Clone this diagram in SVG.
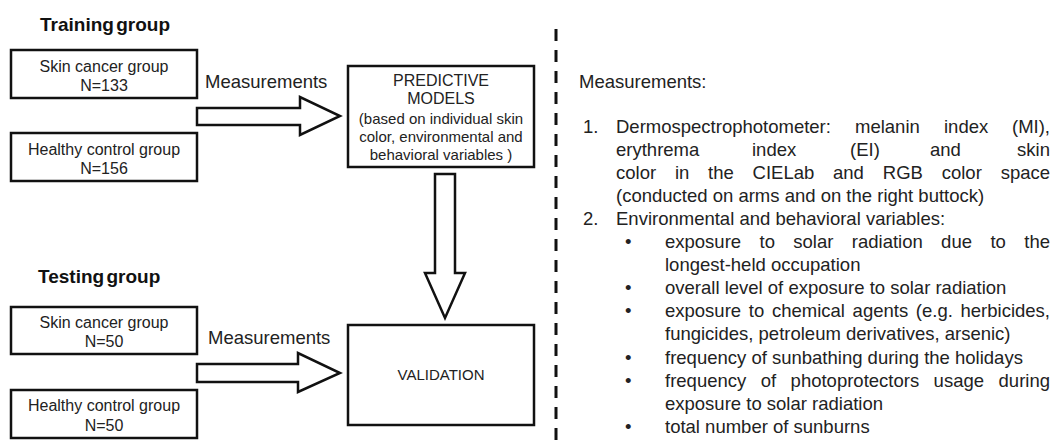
<svg xmlns="http://www.w3.org/2000/svg" width="1058" height="447" viewBox="0 0 1058 447">
<style>
.t{font-family:"Liberation Sans",Arial,sans-serif;fill:#222}
.title{font-family:"Liberation Sans",Arial,sans-serif;font-weight:bold;font-size:19px;fill:#111;word-spacing:-3px}
.box{fill:#fff;stroke:#111;stroke-width:2.5}
.g{font-size:16px;text-anchor:middle}
.p{font-size:15px;text-anchor:middle}
.lab{font-size:18.5px}
.r{font-size:18.5px}
.e{text-anchor:end}
.arrow{fill:#fff;stroke:#111;stroke-width:2.5;stroke-linejoin:miter}
</style>
<rect width="1058" height="447" fill="#fff"/>
<text class="title" x="40" y="31">Training group</text>
<text class="title" x="38" y="283">Testing group</text>
<g id="train-cancer"><rect class="box" x="11" y="50" width="186" height="48"/><text class="t g" x="104" y="72">Skin cancer group</text><text class="t g" x="104" y="91">N=133</text></g>
<g id="train-healthy"><rect class="box" x="11" y="133" width="186" height="48"/><text class="t g" x="104" y="155">Healthy control group</text><text class="t g" x="104" y="174">N=156</text></g>
<g id="test-cancer"><rect class="box" x="11" y="307" width="186" height="47"/><text class="t g" x="104" y="328">Skin cancer group</text><text class="t g" x="104" y="347">N=50</text></g>
<g id="test-healthy"><rect class="box" x="11" y="390" width="186" height="48"/><text class="t g" x="104" y="411">Healthy control group</text><text class="t g" x="104" y="431">N=50</text></g>
<g id="predictive"><rect class="box" x="348" y="66" width="186" height="101"/>
<text class="t p" x="441" y="86" style="font-size:16px">PREDICTIVE</text>
<text class="t p" x="441" y="104" style="font-size:16px">MODELS</text>
<text class="t p" x="441" y="124">(based on individual skin</text>
<text class="t p" x="441" y="142">color, environmental and</text>
<text class="t p" x="441" y="160">behavioral variables )</text></g>
<g id="validation"><rect class="box" x="348" y="325" width="186" height="100"/><text class="t p" x="441" y="380">VALIDATION</text></g>
<g id="connectors">
<polygon class="arrow" points="197,108 300,108 300,97 340,116 300,135 300,125 197,125"/>
<text class="t lab" x="205" y="88">Measurements</text>
<polygon class="arrow" points="197,364 298,364 298,353 340,373 298,392 298,382 197,382"/>
<text class="t lab" x="208" y="344">Measurements</text>
<polygon class="arrow" points="435,174 455,174 455,273 465,273 445,318 425,273 435,273"/>
</g>
<line x1="556" y1="29" x2="556" y2="447" stroke="#111" stroke-width="3" stroke-dasharray="12 9"/>
<g id="measurements-text">
<text class="t r" x="579" y="88">Measurements:</text>
<text class="t r" x="583" y="133">1.</text>
<text class="t r" x="616" y="133">Dermospectrophotometer:</text>
<text class="t r" x="855" y="133">melanin</text>
<text class="t r" x="944" y="133">index</text>
<text class="t r e" x="1050" y="133">(MI),</text>
<text class="t r" x="616" y="156">erythrema</text>
<text class="t r" x="752" y="156">index</text>
<text class="t r" x="850" y="156">(EI)</text>
<text class="t r" x="930" y="156">and</text>
<text class="t r e" x="1050" y="156">skin</text>
<text class="t r" x="616" y="179">color</text>
<text class="t r" x="675" y="179">in</text>
<text class="t r" x="708" y="179">the</text>
<text class="t r" x="752.6" y="179">CIELab</text>
<text class="t r" x="833" y="179">and</text>
<text class="t r" x="882.8" y="179">RGB</text>
<text class="t r" x="941.7" y="179">color</text>
<text class="t r e" x="1050" y="179">space</text>
<text class="t r" x="616" y="202">(conducted on arms and on the right buttock)</text>
<text class="t r" x="583" y="225">2.</text>
<text class="t r" x="616" y="225">Environmental and behavioral variables:</text>
<text class="t r" x="625" y="248">•</text>
<text class="t r" x="665" y="248">exposure</text>
<text class="t r" x="759.5" y="248">to</text>
<text class="t r" x="793.3" y="248">solar</text>
<text class="t r" x="851.8" y="248">radiation</text>
<text class="t r" x="941.1" y="248">due</text>
<text class="t r" x="990.4" y="248">to</text>
<text class="t r e" x="1050" y="248">the</text>
<text class="t r" x="665" y="271">longest-held occupation</text>
<text class="t r" x="625" y="294">•</text>
<text class="t r" x="665" y="294">overall level of exposure to solar radiation</text>
<text class="t r" x="625" y="317">•</text>
<text class="t r" x="665" y="317">exposure</text>
<text class="t r" x="748.8" y="317">to</text>
<text class="t r" x="771.9" y="317">chemical</text>
<text class="t r" x="852.6" y="317">agents</text>
<text class="t r" x="915.8" y="317">(e.g.</text>
<text class="t r e" x="1050" y="317">herbicides,</text>
<text class="t r" x="665" y="340">fungicides, petroleum derivatives, arsenic)</text>
<text class="t r" x="625" y="364">•</text>
<text class="t r" x="665" y="364">frequency of sunbathing during the holidays</text>
<text class="t r" x="625" y="387">•</text>
<text class="t r" x="665" y="387">frequency</text>
<text class="t r" x="760.7" y="387">of</text>
<text class="t r" x="790.6" y="387">photoprotectors</text>
<text class="t r" x="933.6" y="387">usage</text>
<text class="t r e" x="1050" y="387">during</text>
<text class="t r" x="665" y="410">exposure to solar radiation</text>
<text class="t r" x="625" y="433">•</text>
<text class="t r" x="665" y="433">total number of sunburns</text>
</g>
</svg>
